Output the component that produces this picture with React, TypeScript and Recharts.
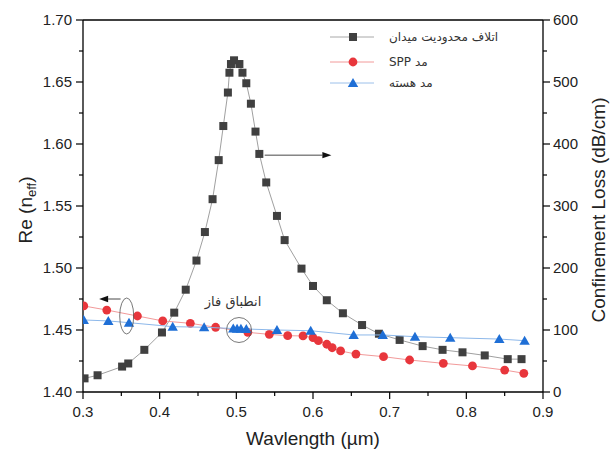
import React from 'react';
import { ComposedChart, Scatter, XAxis, YAxis, ReferenceLine, ReferenceDot } from 'recharts';

// Confinement loss (dB/cm) vs wavelength (µm)
const lossWavelength = [0.302, 0.319, 0.351, 0.359, 0.380, 0.403, 0.419, 0.434, 0.448, 0.459, 0.469, 0.477, 0.483, 0.489, 0.491, 0.493, 0.497, 0.504, 0.508, 0.513, 0.519, 0.525, 0.530, 0.539, 0.553, 0.563, 0.585, 0.600, 0.618, 0.639, 0.664, 0.686, 0.713, 0.743, 0.769, 0.795, 0.824, 0.854, 0.872];
const lossValues = [22, 27, 41, 46, 68, 96, 128, 165, 212, 258, 311, 374, 429, 483, 515, 529, 535, 529, 515, 498, 465, 420, 384, 338, 284, 245, 199, 171, 148, 127, 108, 94, 84, 74, 68, 64, 59, 53, 53];

// SPP mode Re(neff)
const sppWavelength = [0.301, 0.331, 0.371, 0.404, 0.440, 0.473, 0.515, 0.543, 0.567, 0.587, 0.600, 0.607, 0.618, 0.625, 0.636, 0.656, 0.692, 0.726, 0.770, 0.808, 0.850, 0.875];
const sppIndex = [1.4694, 1.4661, 1.4613, 1.4573, 1.4554, 1.4522, 1.4481, 1.4465, 1.4454, 1.4452, 1.4438, 1.4414, 1.4385, 1.4357, 1.4331, 1.4306, 1.4285, 1.4258, 1.4231, 1.4210, 1.4177, 1.4151];

// Core mode Re(neff)
const coreWavelength = [0.301, 0.333, 0.360, 0.417, 0.458, 0.496, 0.501, 0.506, 0.513, 0.553, 0.597, 0.653, 0.691, 0.733, 0.779, 0.843, 0.876];
const coreIndex = [1.4581, 1.4573, 1.4559, 1.4527, 1.4522, 1.4512, 1.4510, 1.4510, 1.4508, 1.4500, 1.4494, 1.4460, 1.4460, 1.4446, 1.4438, 1.4427, 1.4414];

const xMajorTicks = [0.3, 0.4, 0.5, 0.6, 0.7, 0.8, 0.9];
const xMinorTicks = [0.35, 0.45, 0.55, 0.65, 0.75, 0.85];
const nMajorTicks = [1.4, 1.45, 1.5, 1.55, 1.6, 1.65, 1.7];
const nMinorTicks = [1.425, 1.475, 1.525, 1.575, 1.625, 1.675];
const lossMajorTicks = [0, 100, 200, 300, 400, 500, 600];
const lossMinorTicks = [50, 150, 250, 350, 450, 550];

const legendLabels = ['اتلاف محدودیت میدان', 'مد SPP', 'مد هسته'];
const phaseMatchLabel = 'انطباق فاز';
const xTitle = 'Wavlength (µm)';
const rightTitle = 'Confinement Loss (dB/cm)';

const lossData = lossWavelength.map((x, i) => ({ x, y: lossValues[i] }));
const sppData = sppWavelength.map((x, i) => ({ x, y: sppIndex[i] }));
const coreData = coreWavelength.map((x, i) => ({ x, y: coreIndex[i] }));

const FONT = '"Liberation Sans", Arial, sans-serif';
const AR_FONT = '"DejaVu Sans", "Noto Sans", sans-serif';
const SQ = '#404040';
const RED = '#e8363c';
const BLUE = '#1f6fd6';

const isMajor = (v: number, majors: number[]) => majors.some((m) => Math.abs(m - v) < 1e-9);

const BottomTick = (p: any) => {
  const major = isMajor(p.payload.value, xMajorTicks);
  return (
    <g>
      <line x1={p.x} x2={p.x} y1={p.y} y2={p.y + (major ? 7 : 4)} stroke="#000" strokeWidth={1.2} />
      {major && (
        <text x={p.x} y={p.y + 25} textAnchor="middle" fontSize={15} fontFamily={FONT} fill="#222">
          {p.payload.value.toFixed(1)}
        </text>
      )}
    </g>
  );
};

const LeftTick = (p: any) => {
  const major = isMajor(p.payload.value, nMajorTicks);
  return (
    <g>
      <line x1={p.x} x2={p.x - (major ? 7 : 4)} y1={p.y} y2={p.y} stroke="#000" strokeWidth={1.2} />
      {major && (
        <text x={p.x - 11} y={p.y + 5} textAnchor="end" fontSize={15} fontFamily={FONT} fill="#222">
          {p.payload.value.toFixed(2)}
        </text>
      )}
    </g>
  );
};

const RightTick = (p: any) => {
  const major = isMajor(p.payload.value, lossMajorTicks);
  return (
    <g>
      <line x1={p.x} x2={p.x + (major ? 7 : 4)} y1={p.y} y2={p.y} stroke="#000" strokeWidth={1.2} />
      {major && (
        <text x={p.x + 10} y={p.y + 5} textAnchor="start" fontSize={15} fontFamily={FONT} fill="#222">
          {String(p.payload.value)}
        </text>
      )}
    </g>
  );
};

const SquareShape = (p: any) => <rect x={p.cx - 4} y={p.cy - 4} width={8} height={8} fill={SQ} />;
const CircleShape = (p: any) => <circle cx={p.cx} cy={p.cy} r={4.4} fill={RED} />;
const TriangleShape = (p: any) => (
  <polygon points={`${p.cx},${p.cy - 5} ${p.cx + 5.2},${p.cy + 4} ${p.cx - 5.2},${p.cy + 4}`} fill={BLUE} />
);

const ArrowShape = (p: any) => {
  const { x1, y1, x2, y2 } = p;
  const dx = x2 - x1;
  const dy = y2 - y1;
  const len = Math.sqrt(dx * dx + dy * dy) || 1;
  const ux = dx / len;
  const uy = dy / len;
  const hl = 9;
  const hw = 3.2;
  const bx = x2 - ux * hl;
  const by = y2 - uy * hl;
  return (
    <g>
      <line x1={x1} y1={y1} x2={bx} y2={by} stroke="#333" strokeWidth={0.9} />
      <polygon
        points={`${x2},${y2} ${bx - uy * hw},${by + ux * hw} ${bx + uy * hw},${by - ux * hw}`}
        fill="#111"
      />
    </g>
  );
};

const LegendRow = ({ y, label, kind }: { y: number; label: string; kind: string }) => {
  const lineColor = kind === 'sq' ? '#a8a8a8' : kind === 'ci' ? '#f29a9a' : '#9cc0ea';
  const cx = 353;
  return (
    <g>
      <line x1={330} x2={374} y1={y} y2={y} stroke={lineColor} strokeWidth={1} />
      {kind === 'sq' && <rect x={cx - 4} y={y - 4} width={8} height={8} fill={SQ} />}
      {kind === 'ci' && <circle cx={cx} cy={y} r={4.4} fill={RED} />}
      {kind === 'tr' && (
        <polygon points={`${cx},${y - 5} ${cx + 5.2},${y + 4} ${cx - 5.2},${y + 4}`} fill={BLUE} />
      )}
      <text x={389} y={y + 4} textAnchor="start" fontSize={12} fontFamily={AR_FONT} fill="#333">
        {'\u202B' + label + '\u202C'}
      </text>
    </g>
  );
};

export default function App() {
  return (
    <div style={{ position: 'absolute', left: 0, top: 0, width: 611, height: 452, background: '#fff' }}>
      <ComposedChart width={611} height={452} margin={{ top: 20, right: 0, bottom: 0, left: 0 }}>
        <XAxis
          dataKey="x"
          type="number"
          domain={[0.3, 0.9]}
          ticks={[...xMajorTicks, ...xMinorTicks]}
          interval={0}
          tickSize={0}
          tickMargin={0}
          tickLine={false}
          tick={BottomTick}
          axisLine={{ stroke: '#000', strokeWidth: 1.3 }}
          height={60}
          allowDataOverflow
        />
        <YAxis
          yAxisId="n"
          dataKey="y"
          type="number"
          domain={[1.4, 1.7]}
          ticks={[...nMajorTicks, ...nMinorTicks]}
          interval={0}
          tickSize={0}
          tickMargin={0}
          tickLine={false}
          tick={LeftTick}
          axisLine={{ stroke: '#000', strokeWidth: 1.3 }}
          width={83}
          allowDataOverflow
        />
        <YAxis
          yAxisId="loss"
          orientation="right"
          dataKey="y"
          type="number"
          domain={[0, 600]}
          ticks={[...lossMajorTicks, ...lossMinorTicks]}
          interval={0}
          tickSize={0}
          tickMargin={0}
          tickLine={false}
          tick={RightTick}
          axisLine={{ stroke: '#000', strokeWidth: 1.3 }}
          width={68}
          allowDataOverflow
        />
        <ReferenceLine yAxisId="n" y={1.7} stroke="#000" strokeWidth={1.3} />

        <Scatter
          data={lossData}
          yAxisId="loss"
          line={{ stroke: '#a0a0a0', strokeWidth: 1 }}
          shape={SquareShape}
          isAnimationActive={false}
        />
        <Scatter
          data={sppData}
          yAxisId="n"
          line={{ stroke: '#f29a9a', strokeWidth: 1 }}
          shape={CircleShape}
          isAnimationActive={false}
        />
        <Scatter
          data={coreData}
          yAxisId="n"
          line={{ stroke: '#8db8ea', strokeWidth: 1 }}
          shape={TriangleShape}
          isAnimationActive={false}
        />

        <ReferenceLine
          yAxisId="loss"
          segment={[{ x: 0.537, y: 382 }, { x: 0.624, y: 382 }]}
          shape={ArrowShape}
        />
        <ReferenceLine
          yAxisId="n"
          segment={[{ x: 0.349, y: 1.475 }, { x: 0.321, y: 1.475 }]}
          shape={ArrowShape}
        />
        <ReferenceDot
          yAxisId="n"
          x={0.357}
          y={1.4613}
          shape={(p: any) => (
            <ellipse cx={p.cx} cy={p.cy} rx={7} ry={18} fill="none" stroke="#555" strokeWidth={0.8} />
          )}
        />
        <ReferenceDot
          yAxisId="n"
          x={0.5035}
          y={1.45}
          shape={(p: any) => (
            <circle cx={p.cx} cy={p.cy} r={12.5} fill="none" stroke="#555" strokeWidth={0.8} />
          )}
        />
        <ReferenceDot
          yAxisId="n"
          x={0.4957}
          y={1.4734}
          shape={(p: any) => (
            <text x={p.cx} y={p.cy + 5} textAnchor="middle" fontSize={13} fontFamily={AR_FONT} fill="#333">
              {'\u202B' + phaseMatchLabel + '\u202C'}
            </text>
          )}
        />

        <g>
          <LegendRow y={37} label={legendLabels[0]} kind="sq" />
          <LegendRow y={62} label={legendLabels[1]} kind="ci" />
          <LegendRow y={83} label={legendLabels[2]} kind="tr" />
        </g>

        <text x={313} y={445} textAnchor="middle" fontSize={19} fontFamily={FONT} fill="#222">
          {xTitle}
        </text>
        <text transform="translate(32,210) rotate(-90)" x={0} y={0} textAnchor="middle" fontSize={19} fontFamily={FONT} fill="#222">
          Re (n<tspan dy={4} fontSize={13}>eff</tspan><tspan dy={-4}>)</tspan>
        </text>
        <text transform="translate(605,210) rotate(-90)" x={0} y={0} textAnchor="middle" fontSize={19} fontFamily={FONT} fill="#222">
          {rightTitle}
        </text>
      </ComposedChart>
    </div>
  );
}
